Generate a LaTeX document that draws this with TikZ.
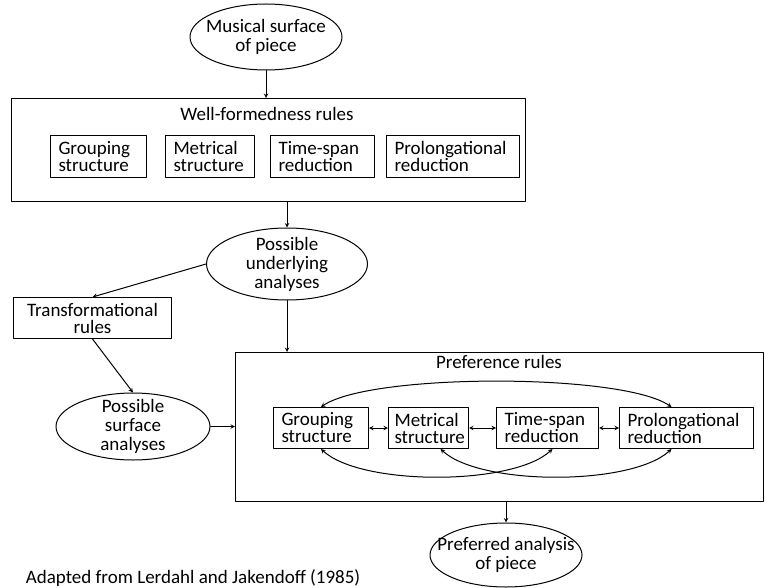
\documentclass[tikz,border=0pt]{standalone}
\usepackage{fontspec}
\setmainfont{Carlito}
\usetikzlibrary{shapes.geometric,positioning}
\newcommand{\boxfont}{\fontsize{19}{17}\selectfont}
\newcommand{\ellfont}{\fontsize{19}{19}\selectfont}

\begin{document}
\begin{tikzpicture}[x=1pt, y=-1pt, line join=round, line cap=round, >=stealth, line width=1pt, font=\ellfont,
    ell/.style={draw, ellipse, inner sep=0pt},
    frame/.style={draw, rectangle, inner sep=0pt, anchor=north west},
    rulebox/.style={draw, rectangle, inner xsep=8pt, inner ysep=0pt, minimum height=42pt, text width=#1, align=left, anchor=north west, font=\boxfont}]
  \useasboundingbox (0,0) rectangle (765,588);
  % surface and well-formedness rules
  \node[ell, minimum width=152pt, minimum height=66pt, label={[align=center]center:Musical surface\\of piece}] (musical) at (266,37) {};
  \node[frame, minimum width=514pt, minimum height=103pt] (wfr) at (11,98) {};
  \node[anchor=base] (wfrtitle) at (267,121) {Well-formedness rules};
  \node[rulebox=80pt] (wgroup) at (50,135) {Grouping\\structure};
  \node[rulebox=73pt] (wmetric) at (165,135) {Metrical\\structure};
  \node[rulebox=88pt] (wspan) at (270,135) {Time-span\\reduction};
  \node[rulebox=117pt] (wprolong) at (386,135) {Prolongational\\reduction};
  % analyses
  \node[ell, minimum width=161pt, minimum height=72pt, label={[align=center]center:Possible\\underlying\\analyses}] (underlying) at (287,264) {};
  \node[frame, minimum width=158pt, minimum height=41pt, align=center, font=\boxfont] (trans) at (13,297) {Transformational\\rules};
  \node[ell, minimum width=154pt, minimum height=67pt, label={[align=center]center:Possible\\surface\\analyses}] (surface) at (133,426.5) {};
  % preference rules
  \node[frame, minimum width=528pt, minimum height=149pt] (pref) at (235,352) {};
  \node[anchor=base] (preftitle) at (499,368) {Preference rules};
  \node[rulebox=79pt, minimum height=41pt] (pgroup) at (273,407) {Grouping\\structure};
  \node[rulebox=68pt, minimum height=41pt, inner xsep=6pt] (pmetric) at (388,407) {Metrical\\structure};
  \node[rulebox=86pt, minimum height=41pt] (pspan) at (496,407) {Time-span\\reduction};
  \node[rulebox=118pt, minimum height=41pt] (pprolong) at (619,407) {Prolongational\\reduction};
  \node[ell, minimum width=152pt, minimum height=64pt, label={[align=center]center:Preferred analysis\\of piece}] (preferred) at (506,555) {};
  \node[anchor=base west] (source) at (22,583) {Adapted from Lerdahl and Jakendoff (1985)};
  % connectors
  \draw[->] (musical.south) -- (musical.south |- wfr.north);
  \draw[->] (underlying.north |- wfr.south) -- (underlying.north);
  \draw[->] (underlying.west) -- (trans.north);
  \draw[->] (trans.south) -- (surface.north);
  \draw[->] (surface.east) -- (surface.east -| pref.west);
  \draw[->] (underlying.south) -- (underlying.south |- pref.north);
  \draw[->] (preferred.north |- pref.south) -- (preferred.north);
  \draw[<->] (pgroup) -- (pmetric);
  \draw[<->] (pmetric) -- (pspan);
  \draw[<->] (pspan) -- (pprolong);
  \draw[<->] (pgroup.north) .. controls +(50,-34) and +(-50,-34) .. ([xshift=-15pt]pprolong.north);
  \draw[<->] (pgroup.south) .. controls +(40,37) and +(-40,37) .. ([xshift=5pt]pspan.south);
  \draw[<->] ([xshift=12pt]pmetric.south) .. controls +(40,37) and +(-40,37) .. ([xshift=-15pt]pprolong.south);
\end{tikzpicture}
\end{document}
